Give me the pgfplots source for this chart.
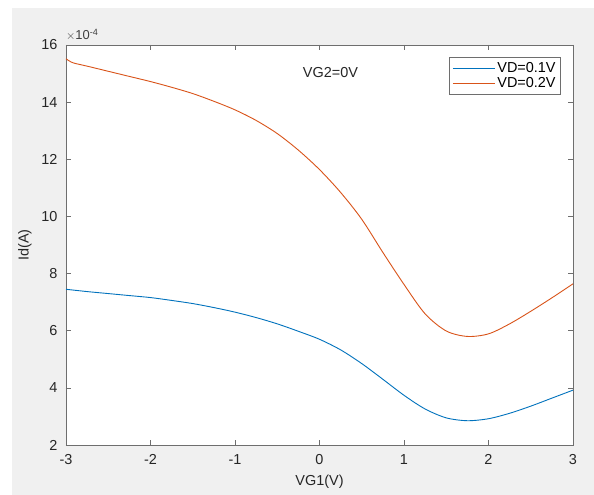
\documentclass[border=0pt]{standalone}
\usepackage{pgfplots}
\pgfplotsset{compat=1.18}
\usepackage{fontspec}
\setmainfont{Liberation Sans}

\definecolor{mblue}{RGB}{0,114,189}
\definecolor{morange}{RGB}{217,83,25}
\definecolor{figbg}{RGB}{240,240,240}
\definecolor{axgray}{RGB}{110,110,110}

\begin{document}
\begin{tikzpicture}
% figure window background
\fill[white] (-66bp,-50bp) rectangle (528bp,445bp);
\fill[figbg] (-54bp,-50bp) rectangle (528bp,437bp);
\begin{axis}[
    scale only axis,
    width=507bp,
    height=400bp,
    xmin=-3, xmax=3,
    ymin=2, ymax=16,
    xtick={-3,-2,...,3},
    ytick={2,4,...,16},
    axis background/.style={fill=white},
    axis line style={axgray, line width=0.8bp},
    tick style={axgray, line width=0.6bp},
    tick align=inside,
    major tick length=5bp,
    every tick label/.append style={font=\fontsize{14.5}{16}\selectfont, text=black!85},
    xticklabel style={yshift=-6bp},
    yticklabel style={xshift=-5bp},
    /pgf/number format/assume math mode=true,
    xlabel={VG1(V)},
    ylabel={Id(A)},
    label style={font=\fontsize{14.5}{16}\selectfont, text=black!85},
    xlabel style={at={(axis description cs:0.5,-0.093)}, anchor=center},
    ylabel style={at={(axis description cs:-0.081,0.5)}, anchor=center},
    legend style={at={(rel axis cs:0.976,0.97)}, anchor=north east,
        draw=axgray, fill=white, font=\fontsize{14.5}{16}\selectfont,
        row sep=0bp, inner xsep=3bp, inner ysep=3bp},
    legend cell align=left,
    legend image code/.code={\draw[#1] (0bp,0bp) -- (42bp,0bp);},
    clip=false,
]
\addplot[mblue, line width=0.9bp, smooth] coordinates {
    (-3,7.45) (-2.75,7.37) (-2.5,7.30) (-2.25,7.23) (-2,7.16) (-1.75,7.06)
    (-1.5,6.95) (-1.25,6.81) (-1,6.65) (-0.75,6.46) (-0.5,6.24) (-0.25,5.98)
    (0,5.70) (0.25,5.33) (0.5,4.85) (0.75,4.30) (1,3.74) (1.25,3.26)
    (1.5,2.95) (1.75,2.85) (2,2.92) (2.25,3.11) (2.5,3.36) (2.75,3.64)
    (3,3.92)
};
\addlegendentry{VD=0.1V}
\addplot[morange, line width=0.9bp, smooth] coordinates {
    (-3,15.52) (-2.92,15.38) (-2.75,15.26) (-2.5,15.08) (-2.25,14.90) (-2,14.72)
    (-1.75,14.52) (-1.5,14.30) (-1.25,14.03) (-1,13.73) (-0.75,13.36) (-0.5,12.90)
    (-0.25,12.32) (0,11.64) (0.25,10.84) (0.5,9.90) (0.75,8.74) (1,7.62)
    (1.25,6.59) (1.5,5.99) (1.75,5.80) (2,5.89) (2.25,6.24) (2.5,6.68)
    (2.75,7.15) (3,7.64)
};
\addlegendentry{VD=0.2V}
\node[font=\fontsize{14.5}{16}\selectfont, text=black!85] at (axis cs:0.13,15.04) {VG2=0V};
\node[anchor=south west, inner sep=0pt, font=\fontsize{13}{14}\selectfont, text=black!75]
    at (rel axis cs:0,1) [yshift=4bp] {$\times$10\textsuperscript{-4}};
\end{axis}
\end{tikzpicture}
\end{document}
